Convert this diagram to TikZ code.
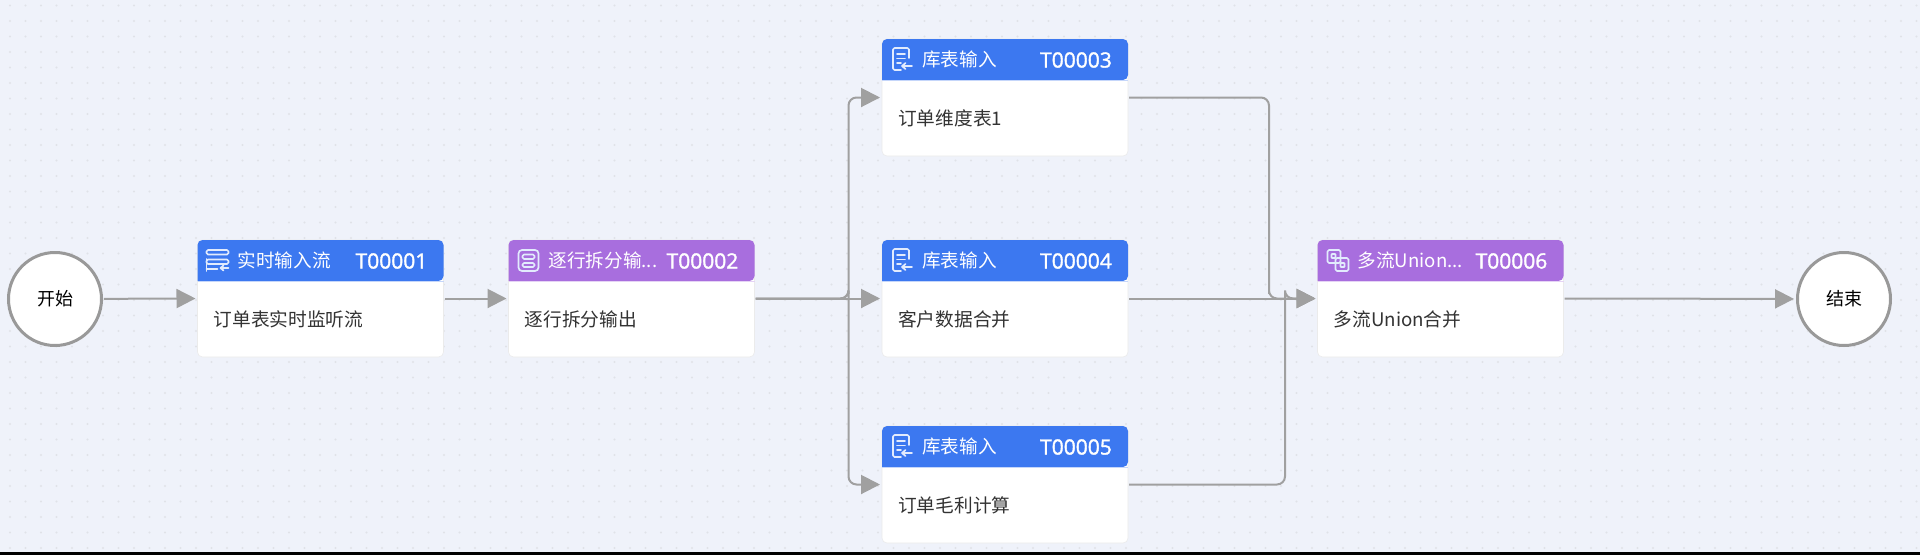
\documentclass[tikz,border=0pt]{standalone}
\usepackage{fontspec}
\setmainfont{Noto Sans CJK SC}
\newfontfamily\idfont{Open Sans}[FakeBold=1.6]
\usetikzlibrary{arrows.meta,calc}
\definecolor{bgc}{HTML}{EFF2FA}
\definecolor{dotc}{HTML}{E0E2E8}
\definecolor{linec}{HTML}{A0A0A0}
\definecolor{ringc}{HTML}{999999}
\definecolor{bluec}{HTML}{3C78F0}
\definecolor{purplec}{HTML}{A86EDE}
\definecolor{bodytxt}{HTML}{333333}
\tikzset{
  cardbox/.style={fill=white,draw=white!92!black,line width=0.6pt,rounded corners=5pt,
    minimum width=246pt,minimum height=117pt,inner sep=0pt,outer sep=0pt},
  ringnode/.style={circle,fill=white,draw=ringc,line width=3pt,minimum size=93pt,inner sep=0pt,
    font=\fontsize{18}{20}\selectfont,text=black},
  titletxt/.style={anchor=west,inner sep=0pt,text=white,font=\fontsize{18.6}{20}\selectfont},
  idtxt/.style={anchor=east,inner sep=0pt,text=white,font=\idfont\fontsize{21}{22}\selectfont},
  bodytext/.style={anchor=west,inner sep=0pt,text=bodytxt,font=\fontsize{18.7}{20}\selectfont},
  flow/.style={draw=linec,line width=2pt,rounded corners=8pt,-{Triangle[length=19pt,width=19pt]},shorten >=2pt,shorten <=1pt},
  icon/.style={draw=white!85!bluec,line width=1.7pt,line cap=round,line join=round,rounded corners=1.5pt},
}
% name, left x, top y, header colour, icon macro, title, id, body
\newcommand{\card}[8]{%
  \node[cardbox] (#1) at ($(#2+123,#3+58.5)$) {};
  \fill[#4,rounded corners=5pt] (#2,#3+41) -- (#2,#3) -- (#2+246,#3) -- (#2+246,#3+41) [sharp corners] -- cycle;
  \fill[white!70!#4] (#2,#3+40.6) rectangle (#2+246,#3+41.6);
  \begin{scope}[shift={(#2,#3)}]#5\end{scope}
  \node[titletxt] (#1t) at (#2+40,#3+20.5) {#6};
  \node[idtxt] (#1i) at (#2+230,#3+21) {#7};
  \node[bodytext] (#1b) at (#2+16,#3+79) {#8};
}
\newcommand{\iconstream}{%
  \draw[icon] (9,10) rectangle (31,14.5);
  \draw[icon] (9,19.5) -- (9,24) -- (31,24) -- (31,19.5) -- cycle;
  \draw[icon,sharp corners] (9,29) -- (20,29) (9,19) -- (9,31);
  \draw[icon,sharp corners] (23,28) -- (31,28) (23,28) -- (26,25.5) (23,28) -- (26,30.5);
}
\newcommand{\iconsplit}{%
  \draw[icon,rounded corners=3.5pt] (10,10) rectangle (30,31);
  \draw[icon] (14,14.5) rectangle (26,19);
  \draw[icon] (14,23) rectangle (26,27);
}
\newcommand{\icondoc}{%
  \draw[icon] (19,31) -- (11,31) -- (11,9) -- (27,9) -- (27,19);
  \draw[icon,sharp corners] (15,15) -- (23,15) (15,19.5) -- (23,19.5) (15,24) -- (19,24);
  \draw[icon,sharp corners] (20,27) -- (30,27) (20,27) -- (23.5,24) (20,27) -- (23.5,30);
}
\newcommand{\iconunion}{%
  \draw[icon] (10,10) rectangle (23,23);
  \draw[icon] (18,18) rectangle (31,31);
  \draw[icon,rounded corners=0.5pt] (14,14) rectangle (18,18);
  \draw[icon,rounded corners=0.5pt] (23,23) rectangle (27,27);
}
\begin{document}
\begin{tikzpicture}[x=1pt,y=-1pt]
\useasboundingbox (0,0) rectangle (1920,555);
\fill[bgc] (0,0) rectangle (1920,555);
\foreach \i in {0,...,123} \foreach \j in {0,...,35}
  \fill[dotc] (10+15.5*\i,5.5+15.5*\j) circle (1.1pt);
\fill[black] (0,552) rectangle (1920,555);

\card{Ta}{197.5}{240}{bluec}{\iconstream}{实时输入流}{T00001}{订单表实时监听流}
\card{Tb}{508.5}{240}{purplec}{\iconsplit}{逐行拆分输...}{T00002}{逐行拆分输出}
\card{Tc}{882}{39}{bluec}{\icondoc}{库表输入}{T00003}{订单维度表1}
\card{Td}{882}{240}{bluec}{\icondoc}{库表输入}{T00004}{客户数据合并}
\card{Te}{882}{426}{bluec}{\icondoc}{库表输入}{T00005}{订单毛利计算}
\card{Tf}{1317.5}{240}{purplec}{\iconunion}{多流Union...}{T00006}{多流Union合并}

\node[ringnode] (start) at (55,299) {开始};
\node[ringnode] (end) at (1844,299) {结束};

\coordinate (split) at (848.5,298.5);
\coordinate (mergea) at (1269,298.5);
\coordinate (mergeb) at (1285,298.5);

\draw[flow] (start) -- (Ta.west);
\draw[flow] (Ta.east) -- (Tb.west);
\draw[flow] (Tb.east) -- (Td.west);
\draw[flow] (Tb.east) -| (split) |- (Tc.west);
\draw[flow] (Tb.east) -| (split) |- (Te.west);
\draw[flow] (Td.east) -- (Tf.west);
\draw[flow] (Tc.east) -| (mergea) |- (Tf.west);
\draw[flow] (Te.east) -| (mergeb) |- (Tf.west);
\draw[flow] (Tf.east) -- (end);
\end{tikzpicture}
\end{document}
